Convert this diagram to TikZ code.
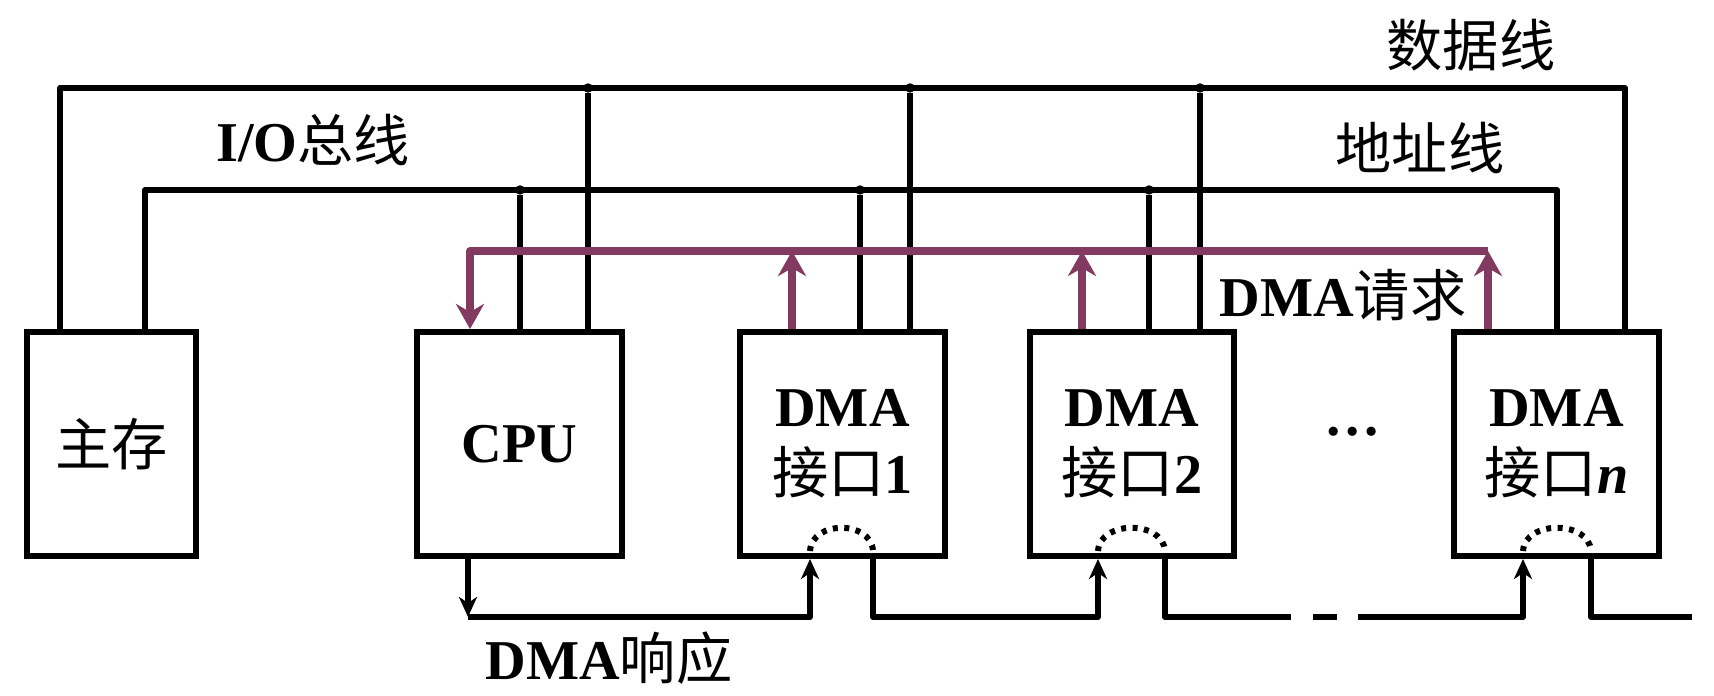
\documentclass[tikz,border=0pt]{standalone}
\usepackage{fontspec}
\setmainfont{Liberation Serif}
\newfontfamily\cjk{Noto Sans CJK SC}
\usetikzlibrary{arrows.meta}
\definecolor{reqcol}{RGB}{130,58,96}
\newcommand\zh[1]{{\cjk\mdseries #1}}
\begin{document}
\begin{tikzpicture}[x=0.02cm,y=-0.02cm,
  bus/.style={line width=0.12cm, line join=round},
  unitbox/.style={draw, line width=0.12cm, minimum width=4.1cm, minimum height=4.48cm,
    inner sep=0pt, font=\fontsize{32}{38}\selectfont\bfseries, align=center},
  tag/.style={font=\fontsize{32}{38}\selectfont\bfseries, inner sep=0pt},
  reqline/.style={draw=reqcol, line width=0.15cm, line join=round},
  reqtip/.style={-{Stealth[length=0.5cm,width=0.56cm,inset=0.16cm]}},
  acktip/.style={-{Stealth[length=0.4cm,width=0.36cm,inset=0.12cm]}},
  tap/.style={circle, fill, inner sep=0pt, minimum size=0.19cm},
  grantarc/.style={line width=0.12cm, dash pattern=on 0.1cm off 0.13cm}
]
\useasboundingbox (0,0) rectangle (1714,696);

% units on the bus
\node[unitbox, minimum width=3.38cm] (mem) at (111.5,444) {\zh{主存}};
\node[unitbox] (cpu)  at (519.5,444) {CPU};
\node[unitbox] (dma1) at (842.5,444) {DMA\\\zh{接口}1};
\node[unitbox] (dma2) at (1132,444)  {DMA\\\zh{接口}2};
\node[unitbox] (dman) at (1556.5,444) {DMA\\\zh{接口}\textit{n}};
\node[tag] (dots) at (1353,432) {…};

% data lines
\coordinate (dl) at (60,88);
\coordinate (dr) at (1625,88);
\draw[bus] (mem.north -| dl) -- (dl) -- (dr) -- (dr |- dman.north);
\foreach \u/\x in {cpu/588, dma1/910, dma2/1200} {
  \node[tap] (d-\u) at (\x,88) {};
  \draw[bus] (\u.north -| d-\u) -- (d-\u);
}

% address lines
\coordinate (al) at (145,190);
\coordinate (ar) at (1557,190);
\draw[bus] (mem.north -| al) -- (al) -- (ar) -- (ar |- dman.north);
\foreach \u/\x in {cpu/520, dma1/860, dma2/1149} {
  \node[tap] (a-\u) at (\x,190) {};
  \draw[bus] (\u.north -| a-\u) -- (a-\u);
}

% bus labels
\node[tag] (lbl-data) at (1471,45)  {\zh{数据线}};
\node[tag] (lbl-addr) at (1420,148) {\zh{地址线}};
\node[tag] (lbl-io)   at (313,140)  {I/O\zh{总线}};

% DMA request line
\coordinate (rl) at (470,251);
\coordinate (rr) at (1488,251);
\draw[reqline, reqtip] (rr) -- (rl) -- (cpu.north -| rl);
\foreach \u/\x in {dma1/792, dma2/1082, dman/1488}
  \draw[reqline, reqtip] (\u.north -| \x,0) -- (\x,251);
\node[tag] (lbl-req) at (1343,295) {DMA\zh{请求}};

% DMA grant daisy chain
\coordinate (g0) at (468,617);
\draw[bus, acktip] (cpu.south -| g0) -- (g0);
\draw[bus, acktip] (g0) -- (810,617) -- (dma1.south -| 810,0);
\draw[bus, acktip] (dma1.south -| 873,0) -- (873,617) -- (1098,617) -- (dma2.south -| 1098,0);
\coordinate (g1) at (1291,617);
\coordinate (g2) at (1313,617);
\coordinate (g3) at (1337,617);
\coordinate (g4) at (1358,617);
\coordinate (g5) at (1692,617);
\draw[bus] (dma2.south -| 1165,0) -- (1165,617) -- (g1);
\draw[bus] (g2) -- (g3);
\draw[bus, acktip] (g4) -- (1523,617) -- (dman.south -| 1523,0);
\draw[bus] (dman.south -| 1591,0) -- (1591,617) -- (g5);
\node[tag] (lbl-ack) at (609,658) {DMA\zh{响应}};

% pass-through inside each interface
\foreach \a/\b in {810/873, 1098/1165, 1523/1591}
  \draw[grantarc] (\a,551) .. controls (\a+2,520) and (\b-2,520) .. (\b,551);
\end{tikzpicture}
\end{document}
